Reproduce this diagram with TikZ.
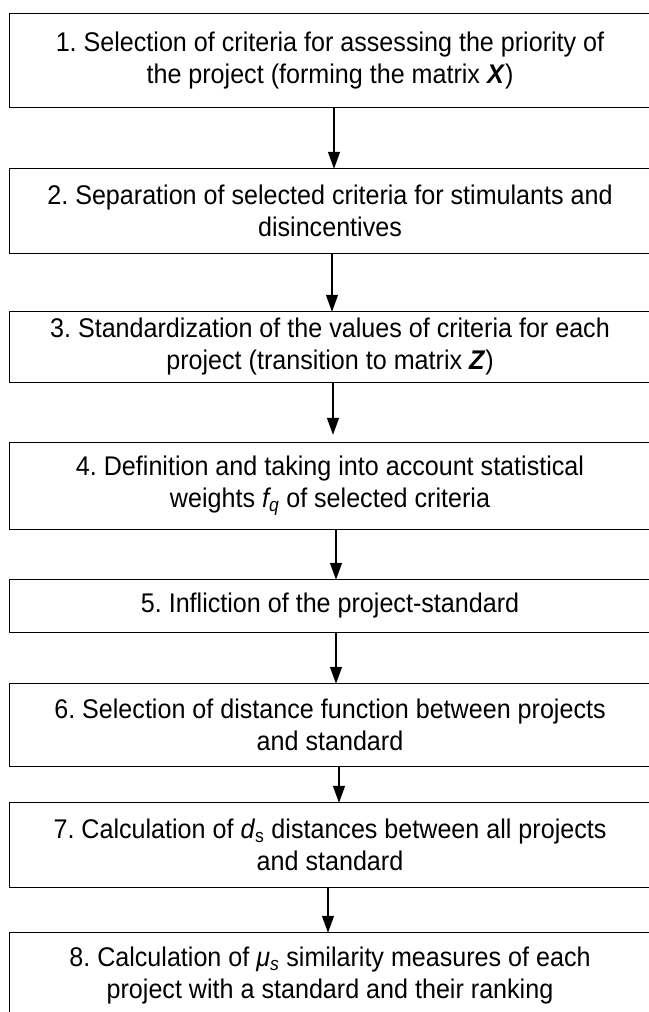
\documentclass[tikz,border=0pt]{standalone}
\usepackage{fontspec}
\setmainfont{Liberation Sans}[FakeStretch=0.93]
\frenchspacing
\usetikzlibrary{arrows.meta,calc}
\begin{document}
\begin{tikzpicture}[x=1pt,y=1pt,
  stepbox/.style={align=center, minimum width=640pt,
    inner sep=0pt, font=\fontsize{27}{32}\selectfont},
  frame/.style={draw=black, line width=1.3pt},
  arr/.style={line width=1.3pt, -{Triangle[width=12pt,length=17pt]}}]
\useasboundingbox[fill=white] (0,0) rectangle (648,-1012);
\node[stepbox, minimum height=93pt] (b1) at (330,-60.5) {1. Selection of criteria for assessing the priority of\\the project (forming the matrix \textbf{\textit{X}})};
\node[stepbox, minimum height=84pt] (b2) at (330,-211) {2. Separation of selected criteria for stimulants and\\disincentives};
\node[stepbox, minimum height=70pt] (b3) at (330,-347) {3. Standardization of the values of criteria for each\\project (transition to matrix \textbf{\textit{Z}})};
\node[stepbox, minimum height=86pt] (b4) at (330,-486) {4. Definition and taking into account statistical\\weights \textit{f\textsubscript{q}} of selected criteria};
\node[stepbox, minimum height=52pt] (b5) at (330,-606) {5. Infliction of the project-standard};
\node[stepbox, minimum height=82pt] (b6) at (330,-725) {6. Selection of distance function between projects\\and standard};
\node[stepbox, minimum height=84pt] (b7) at (330,-845) {7. Calculation of \textit{d}\textsubscript{s} distances between all projects\\and standard};
\node[stepbox, minimum height=86pt] (b8) at (330,-976) {8. Calculation of \textit{μ\textsubscript{s}} similarity measures of each\\project with a standard and their ranking};
\foreach \b in {b1,b2,b3,b4,b5,b6,b7,b8}
  \draw[frame] (\b.north west) rectangle ([xshift=30pt]\b.south east);
\coordinate (x1) at (334,0);
\coordinate (x2) at (332,0);
\coordinate (x3) at (333,0);
\coordinate (x4) at (336,0);
\coordinate (x5) at (336,0);
\coordinate (x6) at (339,0);
\coordinate (x7) at (328,0);
\draw[arr] (b1.south -| x1) -- (b2.north -| x1);
\draw[arr] (b2.south -| x2) -- (b3.north -| x2);
\draw[arr] (b3.south -| x3) -- ([yshift=8pt]b4.north -| x3);
\draw[arr] (b4.south -| x4) -- (b5.north -| x4);
\draw[arr] (b5.south -| x5) -- (b6.north -| x5);
\draw[arr] (b6.south -| x6) -- (b7.north -| x6);
\draw[arr] (b7.south -| x7) -- (b8.north -| x7);
\end{tikzpicture}
\end{document}
